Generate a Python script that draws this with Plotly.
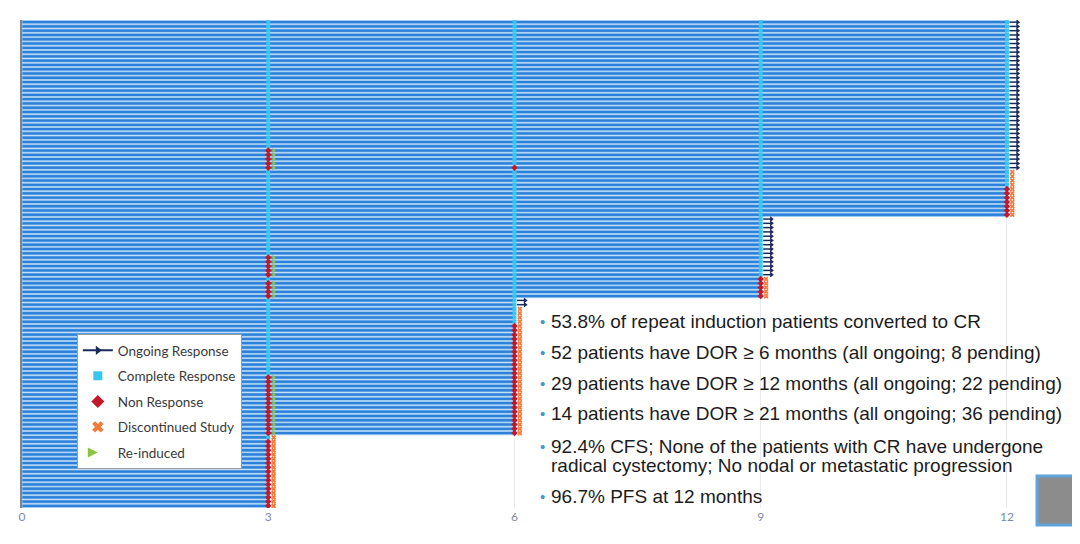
import plotly.graph_objects as go

# ---------------- data ----------------
tick_vals = [0, 3, 6, 9, 12]
tick_labels = ["0", "3", "6", "9", "12"]

# months of follow-up per patient (top row first)
followup_months = [12] * 46 + [9] * 19 + [6] * 32 + [3] * 17

# response at each assessment: C = complete response, N = non response,
# R = non response then re-induced, - = not assessed
resp_m3 = "C" * 30 + "R" * 5 + "C" * 4 + "C" * 7 + "C" * 9 + "R" * 5 + "C" + "R" * 4 + "C" * 2 + "C" * 16 + "R" * 14 + "C" + "N" * 16
resp_m6 = "C" * 34 + "N" + "C" * 4 + "C" * 7 + "C" * 14 + "C" * 5 + "C" * 2 + "C" * 4 + "N" * 26 + "-" * 17
resp_m9 = "C" * 35 + "C" * 4 + "C" * 7 + "C" * 14 + "N" * 5 + "-" * 49
resp_m12 = "C" * 35 + "C" * 4 + "N" * 7 + "-" * 68
# O = ongoing response, X = discontinued study
final_status = "O" * 35 + "X" * 4 + "X" * 7 + "O" * 14 + "X" * 5 + "O" * 2 + "X" * 30 + "X" * 17

bullet_lines = [
    ("53.8% of repeat induction patients converted to CR", True),
    ("52 patients have DOR ≥ 6 months (all ongoing; 8 pending)", True),
    ("29 patients have DOR ≥ 12 months (all ongoing; 22 pending)", True),
    ("14 patients have DOR ≥ 21 months (all ongoing; 36 pending)", True),
    ("92.4% CFS; None of the patients with CR have undergone", True),
    ("radical cystectomy; No nodal or metastatic progression", False),
    ("96.7% PFS at 12 months", True),
]

# ---------------- styles ----------------
BAR = "#2b80d9"
BAR_EDGE = "#a6cff3"
CYAN = "#38c6ee"
RED = "#c0182c"
ORANGE = "#f47a3a"
GREEN = "#8cc63f"
NAVY = "#1b2a5c"

n = len(followup_months)
rows = list(range(n))

fig = go.Figure()

fig.add_trace(go.Bar(
    x=followup_months, y=rows, orientation="h", base=0,
    marker=dict(color=BAR, line=dict(color=BAR_EDGE, width=0.8)),
    showlegend=False, hoverinfo="skip",
))

cr_x, cr_y, nr_x, nr_y, ri_x, ri_y = [], [], [], [], [], []
for t, resp in [(3, resp_m3), (6, resp_m6), (9, resp_m9), (12, resp_m12)]:
    for i, c in enumerate(resp):
        if c == "C":
            cr_x.append(t); cr_y.append(i)
        elif c in "NR":
            nr_x.append(t); nr_y.append(i)
            if c == "R":
                ri_x.append(t + 0.065); ri_y.append(i)

dc_x, dc_y, ar_x, ar_y, head_x, head_y = [], [], [], [], [], []
for i, s in enumerate(final_status):
    t = followup_months[i]
    if s == "X":
        dc_x.append(t + 0.065); dc_y.append(i)
    else:
        ar_x += [t + 0.03, t + 0.13, None]; ar_y += [i, i, None]
        head_x.append(t + 0.13); head_y.append(i)

fig.add_trace(go.Scatter(x=ar_x, y=ar_y, mode="lines", line=dict(color=NAVY, width=1.5),
                         showlegend=False, hoverinfo="skip"))
fig.add_trace(go.Scatter(x=head_x, y=head_y, mode="markers",
                         marker=dict(symbol="triangle-right", color=NAVY, size=5),
                         showlegend=False, hoverinfo="skip"))
fig.add_trace(go.Scatter(x=cr_x, y=cr_y, mode="markers",
                         marker=dict(symbol="square", color=CYAN, size=4, line=dict(width=0)),
                         showlegend=False, hoverinfo="skip"))
fig.add_trace(go.Scatter(x=nr_x, y=nr_y, mode="markers",
                         marker=dict(symbol="diamond", color=RED, size=5, line=dict(width=0)),
                         showlegend=False, hoverinfo="skip"))
fig.add_trace(go.Scatter(x=dc_x, y=dc_y, mode="markers",
                         marker=dict(symbol="x", color=ORANGE, size=4.5, line=dict(width=0)),
                         showlegend=False, hoverinfo="skip"))
fig.add_trace(go.Scatter(x=ri_x, y=ri_y, mode="markers",
                         marker=dict(symbol="triangle-right", color=GREEN, size=4.5, line=dict(width=0)),
                         showlegend=False, hoverinfo="skip"))

# legend-only entries
legend_items = [
    ("Ongoing Response", dict(mode="lines+markers", line=dict(color=NAVY, width=2),
                              marker=dict(symbol="triangle-right", color=NAVY, size=8))),
    ("Complete Response", dict(mode="markers", marker=dict(symbol="square", color=CYAN, size=9))),
    ("Non Response", dict(mode="markers", marker=dict(symbol="diamond", color=RED, size=10))),
    ("Discontinued Study", dict(mode="markers", marker=dict(symbol="x", color=ORANGE, size=10))),
    ("Re-induced", dict(mode="markers", marker=dict(symbol="arrow-right", color=GREEN, size=10))),
]
for k, (name, kw) in enumerate(legend_items):
    fig.add_trace(go.Scatter(x=[None], y=[None], name=name, legendgroup=f"g{k}", **kw))

# ---------------- layout ----------------
PAGE_OFF = 8  # browser body margin
W, H = 1080, 544
L, T = 19 - PAGE_OFF, 20 - PAGE_OFF
B = H - (508 - PAGE_OFF)
R = W - (L + round(12.5 * (1007 - 19) / 12))
pw, ph = W - L - R, H - T - B


def px(xp):
    return (xp - PAGE_OFF - L) / pw


def py(yp):
    return 1 - (yp - PAGE_OFF - T) / ph


shapes = [
    # white panel behind the text block (hides the grid line there)
    dict(type="rect", xref="x", yref="y", x0=6.06, x1=11.9, y0=64.6, y1=n - 0.5,
         fillcolor="white", line=dict(width=0), layer="below"),
    # QR code placeholder
    dict(type="rect", xref="paper", yref="paper", x0=px(1037), x1=px(1074), y0=py(525), y1=py(476),
         fillcolor="#8c8c8c", line=dict(color="#5ea3dc", width=3), layer="above"),
]

annotations = []
line_y = [321, 352, 383, 413, 446, 465, 496]
for yv, (txt, has_bullet) in zip(line_y, bullet_lines):
    if has_bullet:
        annotations.append(dict(xref="paper", yref="paper", x=px(537), y=py(yv), xanchor="left",
                                yanchor="middle", showarrow=False, text="•",
                                font=dict(family="Liberation Sans, Arial", size=15, color="#4b93cc")))
    annotations.append(dict(xref="paper", yref="paper", x=px(548), y=py(yv), xanchor="left",
                            yanchor="middle", align="left", showarrow=False, text=txt,
                            font=dict(family="Liberation Sans, Arial", size=19, color="#1c1c1c")))

fig.update_layout(
    width=W, height=H,
    margin=dict(l=L, r=R, t=T, b=B, pad=0),
    paper_bgcolor="white", plot_bgcolor="white",
    bargap=0.22,
    showlegend=True,
    legend=dict(x=px(74), y=py(334), xanchor="left", yanchor="top",
                bgcolor="white", bordercolor="#9a9a9a", borderwidth=1,
                font=dict(family="Lato, Open Sans", size=13.5, color="#3a3a3a"),
                tracegroupgap=5, itemwidth=30),
    shapes=shapes,
    annotations=annotations,
    xaxis=dict(range=[0, 12.5], tickvals=tick_vals, ticktext=tick_labels, showgrid=True,
               gridcolor="#e8ebf0", gridwidth=1, zeroline=False, ticks="", showline=False,
               tickfont=dict(family="Lato, Open Sans", size=12, color="#7d8aa6")),
    yaxis=dict(range=[n - 0.5, -0.5], showticklabels=False, showgrid=False, zeroline=False,
               showline=True, linecolor="#7e848e", linewidth=1.5, ticks=""),
)

fig.write_html("out.html")
